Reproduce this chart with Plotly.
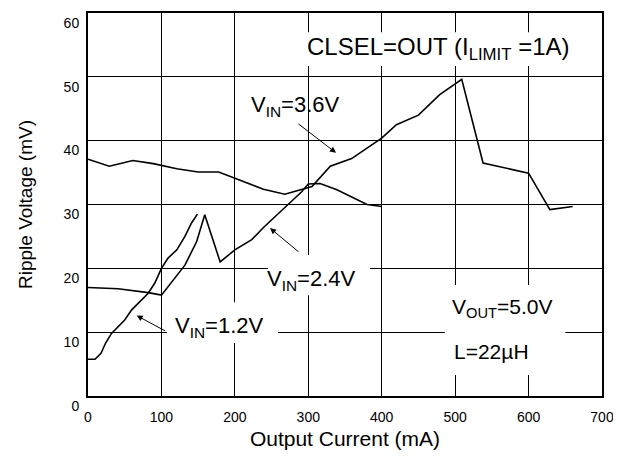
import plotly.graph_objects as go

# ---- data ----
x_vin12 = [0, 9.5, 17.7, 24, 32, 41, 50, 59.5, 71, 82, 91, 100, 109, 121, 132, 141, 149]
y_vin12 = [5.75, 5.75, 6.7, 8.3, 9.8, 10.9, 11.9, 13.5, 14.8, 16.1, 17.7, 20.0, 21.6, 22.9, 25.0, 27.1, 28.5]

x_vin24 = [0, 41, 82, 100, 132, 148, 159, 180, 200, 223, 239, 271, 291, 300, 316, 339, 361, 380, 400]
y_vin24 = [17.0, 16.8, 16.2, 15.8, 20.5, 24.2, 28.4, 21.0, 22.9, 24.5, 26.4, 29.9, 32.0, 33.2, 33.3, 32.3, 31.0, 30.0, 29.7]

x_vin36 = [0, 29, 61, 89, 121, 150, 178, 207, 239, 268, 293, 305, 330, 359, 400, 420, 450, 479, 509, 538, 600, 629, 660]
y_vin36 = [37.1, 36.0, 36.9, 36.4, 35.6, 35.1, 35.1, 33.8, 32.4, 31.6, 32.4, 32.8, 36.0, 37.2, 40.4, 42.5, 44.0, 47.2, 49.6, 36.5, 34.9, 29.2, 29.7]

x_ticks = [0, 100, 200, 300, 400, 500, 600, 700]
y_ticks = [0, 10, 20, 30, 40, 50, 60]

FONT = "Arial, Liberation Sans, sans-serif"

fig = go.Figure()
for xs, ys in [(x_vin12, y_vin12), (x_vin24, y_vin24), (x_vin36, y_vin36)]:
    fig.add_trace(go.Scatter(x=xs, y=ys, mode="lines",
                             line=dict(color="black", width=1.6),
                             showlegend=False, hoverinfo="skip"))

# white boxes hiding the grid behind labels
boxes = [
    (288.7, 670, 51.7, 57.0),
    (245, 384, 15.8, 22.1),
    (107.6, 258.7, 8.3, 14.7),
    (486, 650, 3.3, 17.4),
]
for x0, x1, y0, y1 in boxes:
    fig.add_shape(type="rect", x0=x0, x1=x1, y0=y0, y1=y1, xref="x", yref="y",
                  fillcolor="white", line=dict(width=0), layer="above")

texts = [
    ("CLSEL=OUT (I<sub>LIMIT</sub> =1A)", 477.3, 54.5, "center", 24),
    ("V<sub>IN</sub>=3.6V", 283, 45.4, "center", 22),
    ("V<sub>IN</sub>=2.4V", 304.4, 18.2, "center", 22),
    ("V<sub>IN</sub>=1.2V", 179.7, 10.86, "center", 22),
    ("V<sub>OUT</sub>=5.0V", 565, 13.8, "center", 21),
    ("L=22µH", 495.3, 6.94, "left", 21),
]
for t, x, y, xa, sz in texts:
    fig.add_annotation(text=t, x=x, y=y, xref="x", yref="y", showarrow=False,
                       xanchor=xa, yanchor="middle",
                       font=dict(family=FONT, size=sz, color="black"))

arrows = [
    (337.7, 38.1, 284.6, 42.8),
    (247.9, 26.3, 288.7, 22.4),
    (66.3, 12.6, 107.2, 10.07),
]
for hx, hy, tx, ty in arrows:
    fig.add_annotation(text="", x=hx, y=hy, ax=tx, ay=ty, xref="x", yref="y",
                       axref="x", ayref="y", showarrow=True, arrowhead=2,
                       arrowsize=1.2, arrowwidth=1, arrowcolor="black")

axis_common = dict(showgrid=True, gridcolor="black", gridwidth=1, zeroline=False,
                   showline=True, linecolor="black", linewidth=2, mirror=True,
                   ticks="", automargin=False, ticklabeloverflow="allow",
                   tickfont=dict(family=FONT, size=14, color="black"))

fig.update_xaxes(range=[0, 700], tickvals=x_ticks, ticklabelstandoff=7,
                 title=dict(text="Output Current (mA)", font=dict(family=FONT, size=21, color="black"),
                            standoff=8),
                 **axis_common)
fig.update_yaxes(range=[0, 60], tickvals=y_ticks, ticklabelstandoff=4,
                 ticklabelposition="outside bottom",
                 title=dict(text="Ripple Voltage (mV)", font=dict(family=FONT, size=19, color="black"),
                            standoff=26),
                 **axis_common)

# page body has an 8px margin, so the figure is 8px smaller than the window
fig.update_layout(width=613, height=450, margin=dict(l=80, r=19, t=5, b=62),
                  plot_bgcolor="white", paper_bgcolor="white",
                  font=dict(family=FONT, color="black"))

fig.write_html("out.html")
